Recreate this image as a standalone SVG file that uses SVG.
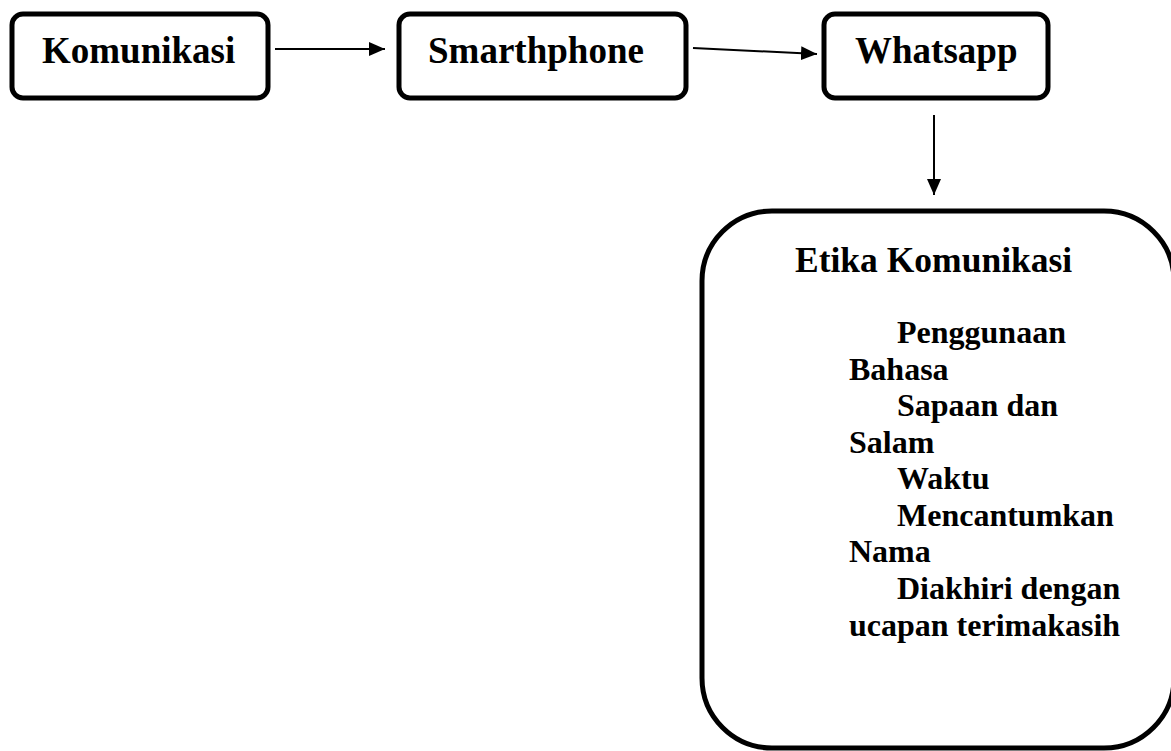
<svg xmlns="http://www.w3.org/2000/svg" width="1171" height="751" viewBox="0 0 1171 751">
<style>
.box{fill:#fff;stroke:#000;stroke-width:5}
.t{font-family:"Liberation Serif","Times New Roman",serif;font-weight:bold;fill:#000}
.top{font-size:37px}
.title{font-size:35.5px}
.body{font-size:32px}
.con{stroke:#000;stroke-width:2;fill:none}
</style>
<defs>
<marker id="a" viewBox="0 0 16 14" refX="16" refY="7" markerWidth="16" markerHeight="14" markerUnits="userSpaceOnUse" orient="auto">
<path d="M0,0 L16,7 L0,14 Z" fill="#000"/>
</marker>
</defs>
<rect width="1171" height="751" fill="#fff"/>
<g id="connectors">
<line class="con" x1="275" y1="49" x2="385" y2="49" marker-end="url(#a)"/>
<line class="con" x1="693" y1="48" x2="817" y2="54" marker-end="url(#a)"/>
<line class="con" x1="934" y1="115" x2="934" y2="195" marker-end="url(#a)"/>
</g>
<g id="node-komunikasi">
<rect class="box" x="12" y="14" width="256" height="84" rx="11"/>
<text class="t top" x="42" y="63">Komunikasi</text>
</g>
<g id="node-smarthphone">
<rect class="box" x="399" y="14" width="287" height="84" rx="11"/>
<text class="t top" x="428" y="63">Smarthphone</text>
</g>
<g id="node-whatsapp">
<rect class="box" x="824" y="14" width="224" height="84" rx="11"/>
<text class="t top" x="855" y="63">Whatsapp</text>
</g>
<g id="node-etika">
<rect class="box" x="702" y="211" width="472" height="537" rx="70" stroke-width="6"/>
<text class="t title" x="795" y="272">Etika Komunikasi</text>
<text class="t body" x="897" y="343">Penggunaan</text>
<text class="t body" x="849" y="380">Bahasa</text>
<text class="t body" x="897" y="416">Sapaan dan</text>
<text class="t body" x="849" y="453">Salam</text>
<text class="t body" x="897" y="489">Waktu</text>
<text class="t body" x="897" y="526">Mencantumkan</text>
<text class="t body" x="849" y="562">Nama</text>
<text class="t body" x="897" y="599">Diakhiri dengan</text>
<text class="t body" x="849" y="636">ucapan terimakasih</text>
</g>
</svg>
